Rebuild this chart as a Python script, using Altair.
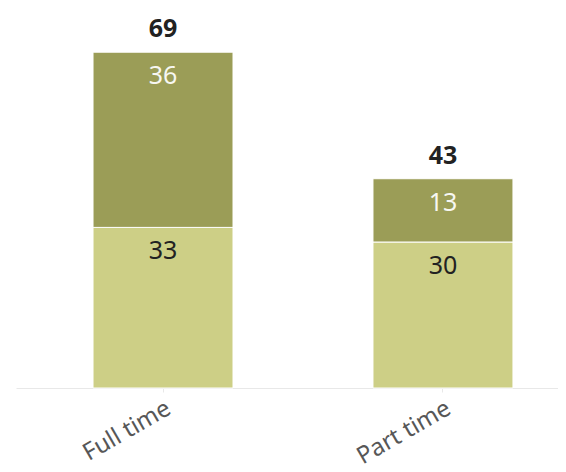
import altair as alt
import pandas as pd

categories = ["Full time", "Part time"]
lower_values = [33, 30]
upper_values = [36, 13]
segments = ["lower", "upper"]
seg_colors = ["#cdcf86", "#9b9d57"]
label_colors = ["#222222", "#f7f7f2"]

rows = []
for c, lo, up in zip(categories, lower_values, upper_values):
    rows.append({"cat": c, "seg": "lower", "value": lo, "start": 0, "end": lo,
                 "lc": label_colors[0]})
    rows.append({"cat": c, "seg": "upper", "value": up, "start": lo, "end": lo + up,
                 "lc": label_colors[1]})
df = pd.DataFrame(rows)
totals = pd.DataFrame({"cat": categories,
                       "total": [lo + up for lo, up in zip(lower_values, upper_values)]})

FONT = "Noto Sans"

xenc = alt.X(
    "cat:N", sort=categories, title=None,
    scale=alt.Scale(paddingInner=0.5, paddingOuter=0.218, align=0.631),
    axis=alt.Axis(labelAngle=-30, labelAlign="right", labelBaseline="top",
                  labelFontSize=24, labelColor="#575757", labelFont=FONT,
                  domainColor="#e8e8e8", tickColor="#e8e8e8", tickSize=4,
                  labelPadding=4),
)
yscale = alt.Scale(domain=[0, 75], nice=False, zero=True)

bars = alt.Chart(df).mark_bar(stroke="white", strokeWidth=1).encode(
    x=xenc,
    y=alt.Y("start:Q", scale=yscale, axis=None),
    y2="end:Q",
    color=alt.Color("seg:N", scale=alt.Scale(domain=segments, range=seg_colors), legend=None),
)

vals = alt.Chart(df).mark_text(baseline="middle", dy=24, fontSize=25, font=FONT).encode(
    x=xenc,
    y=alt.Y("end:Q", scale=yscale, axis=None),
    text="value:Q",
    color=alt.Color("lc:N", scale=None),
)

tots = alt.Chart(totals).mark_text(baseline="middle", dy=-23, fontSize=25, font=FONT,
                                   fontWeight="bold", color="#222222").encode(
    x=xenc,
    y=alt.Y("total:Q", scale=yscale, axis=None),
    text="total:Q",
)

chart = alt.layer(bars, vals, tots).properties(
    width=542, height=365,
    autosize=alt.AutoSizeParams(type="none"),
    padding={"left": 8, "top": 15, "right": 0, "bottom": 84},
).configure_view(stroke=None)

chart.save("out.html", embed_options={"renderer": "svg", "actions": False})
